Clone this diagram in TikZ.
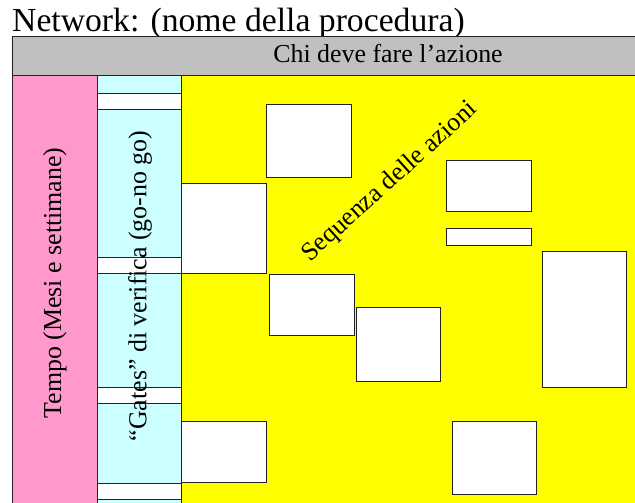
\documentclass[tikz,border=0pt]{standalone}
\usepackage{fontspec}
\setmainfont{Liberation Serif}
\definecolor{pinkc}{HTML}{FF99CC}
\definecolor{cyanc}{HTML}{CCFFFF}
\definecolor{yellowc}{HTML}{FFFF00}
\definecolor{grayc}{HTML}{C0C0C0}
\definecolor{edge}{HTML}{222222}
\begin{document}
\begin{tikzpicture}[x=1bp,y=-1bp,
  band/.style={draw=edge,line width=0.8bp},
  wbox/.style={draw=edge,fill=white,line width=0.8bp},
  lbl/.style={inner sep=0pt,font=\fontsize{26}{28}\selectfont}]
\useasboundingbox (0,0) rectangle (635,503);
\fill[white] (0,0) rectangle (635,503);
% header
\node[inner sep=0pt,anchor=base west,font=\fontsize{33.8}{36}\selectfont] (title) at (12,32) {Network: (nome della procedura)};
\filldraw[band,fill=grayc] (12,36) rectangle (640,75);
\node[lbl,anchor=base] (chi) at (388,63) {Chi deve fare l’azione};
% columns
\filldraw[band,fill=yellowc] (181,75) rectangle (640,510);
\filldraw[band,fill=pinkc] (12,75) rectangle (97,510);
\filldraw[band,fill=cyanc] (97,75) rectangle (181,510);
% gate strips
\filldraw[band,fill=white] (97,93) rectangle (181,109);
\filldraw[band,fill=white] (97,257) rectangle (181,273);
\filldraw[band,fill=white] (97,387) rectangle (181,403);
\filldraw[band,fill=white] (97,483) rectangle (181,499);
% action boxes
\filldraw[wbox] (266,104) rectangle (351,177);
\filldraw[wbox] (181,183) rectangle (266,273);
\filldraw[wbox] (269,274) rectangle (354,335);
\filldraw[wbox] (356,307) rectangle (440,381);
\filldraw[wbox] (446,160) rectangle (531,211);
\filldraw[wbox] (446,228) rectangle (531,245);
\filldraw[wbox] (542,251) rectangle (626,387);
\filldraw[wbox] (452,421) rectangle (536,494);
\filldraw[wbox] (181,421) rectangle (266,482);
% labels
\node[lbl,rotate=90] (tempo) at (55,283) {Tempo (Mesi e settimane)};
\node[lbl,rotate=90] (gates) at (140,286) {“Gates” di verifica (go-no go)};
\node[lbl,rotate=42] (seq) at (390,182) {Sequenza delle azioni};
\end{tikzpicture}
\end{document}
